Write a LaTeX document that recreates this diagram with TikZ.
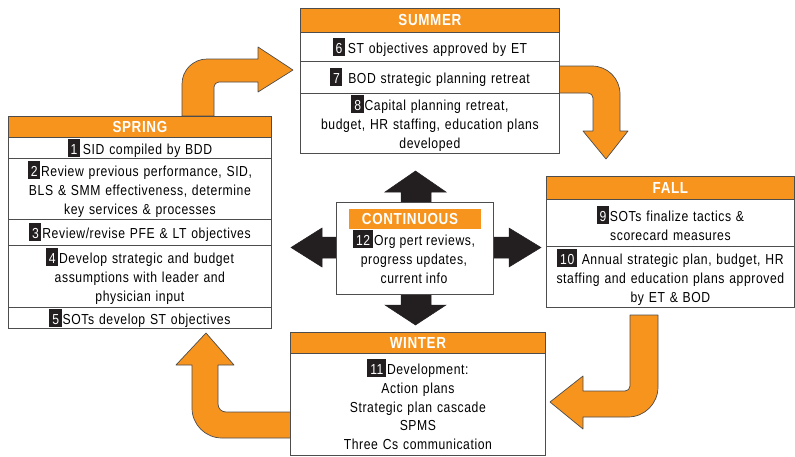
\documentclass[tikz,border=0pt]{standalone}
\usepackage{fontspec}
\setmainfont{Liberation Sans}[FakeStretch=0.84,LetterSpace=4]
\definecolor{seasonorange}{RGB}{247,148,29}
\definecolor{framegray}{RGB}{77,77,77}
\definecolor{numblack}{RGB}{35,31,32}
\newcommand\nbox[1]{{\setlength{\fboxsep}{0pt}\colorbox{numblack}{\rule[-2.5pt]{0pt}{18pt}\hspace{3pt}\textcolor{white}{#1}\hspace{2.5pt}}}}
\tikzset{
  head/.style={fill=seasonorange, draw=framegray, line width=0.8pt, text=white,
    font=\fontsize{16}{19}\bfseries\selectfont, inner sep=0pt, anchor=north west},
  cell/.style={fill=white, draw=framegray, line width=0.8pt, align=center,
    font=\fontsize{14.5}{19}\selectfont, inner sep=0pt, anchor=north west},
  bend arrow/.style={fill=seasonorange, draw=framegray, line width=0.7pt, line join=round},
  flow arrow/.style={fill=numblack, draw=numblack, line width=0.5pt, line join=miter}
}
\begin{document}
\begin{tikzpicture}[x=1pt,y=-1pt]
\useasboundingbox (0,0) rectangle (795,456);

% ---- curved orange arrows between the seasons ----
\draw[bend arrow] (182,116) -- (182,84) .. controls (182,70.2) and (193.2,59) .. (207,59)
  -- (258,59) -- (258,47) -- (293,70) -- (258,92) -- (258,82) -- (219,82)
  .. controls (216.2,82) and (214,84.2) .. (214,87) -- (214,116) -- cycle;
\draw[bend arrow] (555,66) -- (592,66) .. controls (607.5,66) and (620,78.5) .. (620,94)
  -- (620,131) -- (628,131) -- (606,159) -- (583,131) -- (593,131) -- (593,98)
  .. controls (593,95.2) and (590.8,93) .. (588,93) -- (555,93) -- cycle;
\draw[bend arrow] (658,315) -- (658,387) .. controls (658,403.6) and (644.6,417) .. (628,417)
  -- (583,417) -- (583,429) -- (550,402) -- (583,376) -- (583,391) -- (625,391)
  .. controls (627.8,391) and (630,388.8) .. (630,386) -- (630,315) -- cycle;
\draw[bend arrow] (294,438) -- (222,438) .. controls (205.4,438) and (192,424.6) .. (192,408)
  -- (192,365) -- (176,365) -- (206,333) -- (234,365) -- (218,365) -- (218,404)
  .. controls (218,408.4) and (221.6,412) .. (226,412) -- (294,412) -- cycle;

% ---- black arrows out of the centre box ----
\fill[flow arrow] (401,204) -- (401,192) -- (385,192) -- (415.5,171) -- (446,192) -- (431,192) -- (431,204) -- cycle;
\fill[flow arrow] (401,292) -- (401,305) -- (385,305) -- (415.5,325) -- (446,305) -- (431,305) -- (431,292) -- cycle;
\fill[flow arrow] (338,237) -- (322,237) -- (322,228) -- (291,247.5) -- (322,267) -- (322,258) -- (338,258) -- cycle;
\fill[flow arrow] (491,237) -- (509,237) -- (509,228) -- (541,247.5) -- (509,267) -- (509,258) -- (491,258) -- cycle;

% ---- SPRING ----
\node[head, minimum width=263, minimum height=21] (spring) at (8,116) {SPRING};
\node[cell, minimum width=263, minimum height=21, text width=255] (sp1) at (8,137)
  {\nbox{1}\hspace{3pt}SID compiled by BDD};
\node[cell, minimum width=263, minimum height=61, text width=255] (sp2) at (8,158)
  {\nbox{2}\hspace{1pt}Review previous performance, SID,\\ BLS \& SMM effectiveness, determine\\ key services \& processes};
\node[cell, minimum width=263, minimum height=26, text width=255] (sp3) at (8,219)
  {\nbox{3}\hspace{1pt}Review/revise PFE \& LT objectives};
\node[cell, minimum width=263, minimum height=62, text width=255] (sp4) at (8,245)
  {\nbox{4}\hspace{1pt}Develop strategic and budget\\ assumptions with leader and\\ physician input};
\node[cell, minimum width=263, minimum height=21, text width=255] (sp5) at (8,307)
  {\nbox{5}\hspace{1pt}SOTs develop ST objectives};

% ---- SUMMER ----
\node[head, minimum width=259, minimum height=24] (summer) at (300,8) {SUMMER};
\node[cell, minimum width=259, minimum height=29, text width=251] (su6) at (300,32)
  {\nbox{6}\hspace{3pt}ST objectives approved by ET};
\node[cell, minimum width=259, minimum height=32, text width=251] (su7) at (300,61)
  {\nbox{7}\hspace{6pt}BOD strategic planning retreat};
\node[cell, minimum width=259, minimum height=60, text width=251] (su8) at (300,93)
  {\nbox{8}\hspace{1pt}Capital planning retreat,\\ budget, HR staffing, education plans\\ developed};

% ---- FALL ----
\node[head, minimum width=248, minimum height=23] (fall) at (546,176) {FALL};
\node[cell, minimum width=248, minimum height=47, text width=240] (fa9) at (546,199)
  {\nbox{9}\hspace{1pt}SOTs finalize tactics \&\\ scorecard measures};
\node[cell, minimum width=248, minimum height=61, text width=240] (fa10) at (546,246)
  {\nbox{10}\hspace{5pt}Annual strategic plan, budget, HR\\ staffing and education plans approved\\ by ET \& BOD};

% ---- WINTER ----
\node[head, minimum width=255, minimum height=21] (winter) at (290,332) {WINTER};
\node[cell, minimum width=255, minimum height=102, text width=247, font=\fontsize{14.5}{18.8}\selectfont] (wi11) at (290,353)
  {\nbox{11}\hspace{1pt}Development:\\ Action plans\\ Strategic plan cascade\\ SPMS\\ Three Cs communication};

% ---- CONTINUOUS (centre) ----
\node[cell, minimum width=157, minimum height=92] (cont) at (336,202) {};
\node[fill=seasonorange, inner sep=0pt, minimum width=132, minimum height=20,
  anchor=north west] (conttitle) at (349,209) {};
\node[text=white, font=\fontsize{16}{19}\bfseries\selectfont, inner sep=0pt]
  (conttext) at (410,219) {CONTINUOUS};
\node[align=center, font=\fontsize{14.5}{19}\selectfont, inner sep=0pt, anchor=north] (cont12) at (414,230)
  {\nbox{12}\hspace{1.5pt}Org pert reviews,\\ progress updates,\\ current info};
\end{tikzpicture}
\end{document}
